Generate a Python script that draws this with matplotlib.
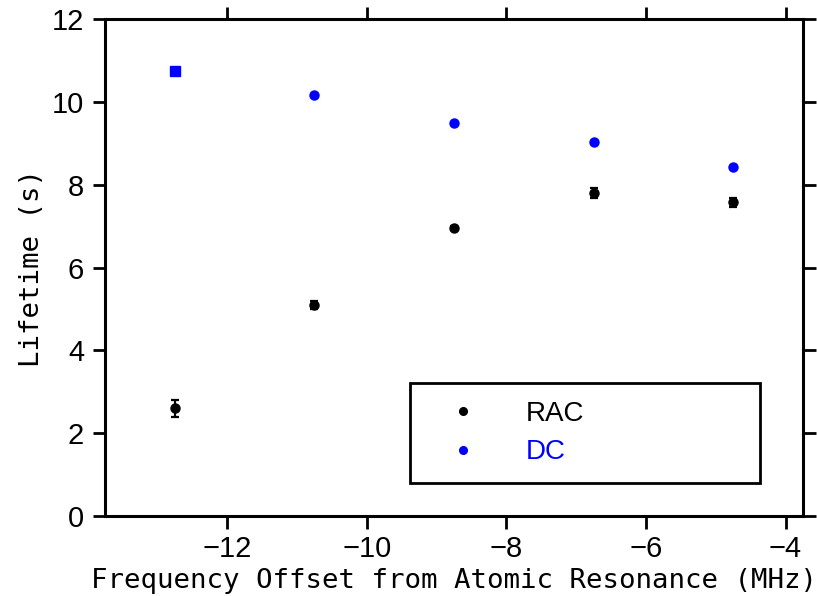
import matplotlib
matplotlib.use("Agg")
import matplotlib.pyplot as plt
from matplotlib.lines import Line2D

# Detuning of the trapping light (MHz)
detuning = [-12.75, -10.75, -8.75, -6.75, -4.75]

# Trap lifetimes (s)
rac_lifetime = [2.6, 5.1, 6.95, 7.8, 7.57]
rac_err = [0.2, 0.1, 0.05, 0.12, 0.12]
dc_lifetime = [10.75, 10.17, 9.48, 9.02, 8.43]

x_ticks = [-12, -10, -8, -6, -4]
y_ticks = [0, 2, 4, 6, 8, 10, 12]

fig = plt.figure(figsize=(8.17, 5.96), dpi=100)
ax = fig.add_axes([0.1285, 0.1342, 0.8544, 0.8339])

tick_font = "Liberation Sans"
label_font = "DejaVu Sans Mono"
blue = "#0000ff"

ax.errorbar(detuning, rac_lifetime, yerr=rac_err, fmt="o", color="black",
            markersize=6.5, elinewidth=1.6, capsize=3.0, capthick=1.6,
            zorder=3)
# first DC point drawn as a square, the rest as circles
ax.plot(detuning[:1], dc_lifetime[:1], "s", color=blue, markersize=6.5,
        zorder=3)
ax.plot(detuning[1:], dc_lifetime[1:], "o", color=blue, markersize=6.5,
        zorder=3)

ax.set_xlim(-13.75, -3.75)
ax.set_ylim(0, 12)
ax.set_xticks(x_ticks)
ax.set_yticks(y_ticks)
ax.set_xticklabels([f"\u2212{abs(v)}" for v in x_ticks])
ax.set_yticklabels([str(v) for v in y_ticks])

for lab in ax.get_xticklabels() + ax.get_yticklabels():
    lab.set_fontfamily(tick_font)
    lab.set_fontsize(21)

ax.tick_params(direction="out", length=9, width=2.0, top=True, right=True,
               labeltop=False, labelright=False, pad=6)
ax.tick_params(axis="x", pad=5)
for s in ax.spines.values():
    s.set_linewidth(2.2)

ax.set_xlabel("Frequency Offset from Atomic Resonance (MHz)",
              fontfamily=label_font, fontsize=19.7, labelpad=3)
ax.set_ylabel("Lifetime (s)", fontfamily=label_font, fontsize=19.7,
              labelpad=5)

handles = [
    Line2D([], [], ls="none", marker="o", color="black", markersize=5.5),
    Line2D([], [], ls="none", marker="o", color=blue, markersize=5.5),
]
leg = ax.legend(handles, ["RAC", "DC"], loc="lower left",
                bbox_to_anchor=(0.437, 0.066, 0.501, 0.2), mode="expand",
                prop={"family": tick_font, "size": 20},
                frameon=True, fancybox=False, edgecolor="black",
                framealpha=1.0,
                borderpad=0.64, handlelength=2.52, handletextpad=1.0,
                labelspacing=0.46, borderaxespad=0)
leg.get_frame().set_linewidth(2.0)
for txt, col in zip(leg.get_texts(), ["black", blue]):
    txt.set_color(col)

fig.savefig("out.png", dpi=100)
